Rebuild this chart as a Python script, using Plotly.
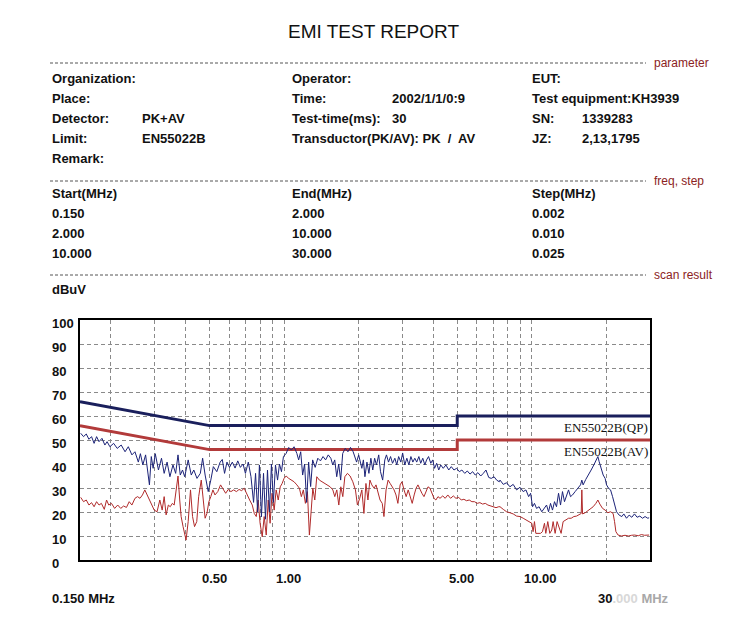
import math
import plotly.graph_objects as go

pk_freq = [0.151, 0.155, 0.159, 0.163, 0.167, 0.171, 0.175, 0.179, 0.184, 0.189,
           0.193, 0.198, 0.205, 0.212, 0.220, 0.228, 0.235, 0.243, 0.250, 0.258,
           0.263, 0.269, 0.276, 0.281, 0.286, 0.291, 0.296, 0.302, 0.311, 0.320,
           0.328, 0.337, 0.346, 0.356, 0.365, 0.373, 0.381, 0.389, 0.397, 0.410,
           0.422, 0.432, 0.445, 0.459, 0.469, 0.480, 0.494, 0.506, 0.518, 0.535,
           0.552,
           0.563, 0.575, 0.588, 0.602, 0.618, 0.634, 0.650, 0.666, 0.683, 0.698,
           0.717, 0.735, 0.753, 0.767, 0.782, 0.795, 0.810, 0.826, 0.841, 0.857,
           0.873, 0.889, 0.905, 0.923, 0.941, 0.958, 0.976, 0.994, 1.019, 1.044,
           1.070, 1.097, 1.126, 1.145, 1.167, 1.188, 1.210, 1.233, 1.256, 1.280,
           1.304, 1.335, 1.368, 1.402, 1.436, 1.471, 1.507, 1.544, 1.572, 1.601,
           1.631, 1.661, 1.692, 1.724, 1.766, 1.810, 1.854, 1.900, 1.962, 2.000,
           2.06, 2.09, 2.12, 2.16, 2.20, 2.24, 2.28, 2.32, 2.36, 2.41,
           2.45, 2.50, 2.55, 2.59, 2.64, 2.69, 2.74, 2.80, 2.85, 2.90,
           2.96, 3.01, 3.07, 3.13, 3.19, 3.25, 3.31, 3.37, 3.43, 3.50,
           3.56, 3.63, 3.70, 3.76, 3.83, 3.91, 3.98, 4.05, 4.13, 4.21,
           4.29, 4.39, 4.50, 4.62, 4.73, 4.85, 4.97, 5.10, 5.22, 5.36,
           5.49, 5.63, 5.77, 5.91, 6.06, 6.22, 6.37, 6.53, 6.70, 6.86,
           7.04, 7.21, 7.39,
           7.44, 7.67, 7.91, 8.16, 8.41, 8.68, 8.96, 9.23, 9.47, 9.71,
           9.89, 10.07, 10.25, 10.45, 10.70, 10.97, 11.25, 11.47, 11.68, 11.90,
           12.12, 12.35, 12.58, 12.82, 13.06, 13.30, 13.55, 13.81, 14.07, 14.33,
           14.60, 14.96, 15.34, 15.73, 15.92, 16.11, 16.52, 16.94, 17.36, 17.80,
           18.25, 18.48, 18.70, 19.05, 19.41, 19.77, 20.03, 20.41, 20.79, 21.18,
           21.58, 21.98, 22.52, 23.09, 23.52, 24.12, 24.71, 25.33, 25.97, 26.61,
           27.29, 27.98, 28.66, 29.39, 29.75]
pk_level = [52.8, 51.4, 52.5, 50.3, 51.4, 48.6, 51.4, 49.3, 50.7, 47.9,
            49.3, 47.2, 48.6, 46.5, 47.9, 45.1, 47.2, 43.8, 45.1, 40.8,
            44.3, 39.6, 43.8, 37.5, 31.3, 43.1, 38.2, 44.3, 37.5, 42.4,
            36.1, 40.8, 34.7, 39.6, 36.1, 43.8, 35.4, 37.5, 34.7, 41.7,
            35.4, 37.5, 34.0, 36.1, 42.4, 35.4, 28.5, 33.3, 38.9, 36.8,
            40.8,
            41.9, 36.1, 40.8, 38.6, 40.8, 38.3, 41.3, 38.6, 40.0, 36.1,
            40.8, 34.7, 24.0, 36.1, 20.0, 39.6, 18.0, 36.1, 17.0, 37.5,
            20.0, 40.0, 24.0, 39.6, 33.3, 40.0, 36.8, 43.1, 44.4, 46.9,
            45.8, 47.2, 44.4, 41.7, 45.1, 35.4, 40.0, 24.0, 40.8, 30.6,
            41.7, 38.6, 42.4, 41.3, 43.1, 41.7, 43.8, 42.4, 39.6, 41.7,
            34.7, 40.0, 33.3, 44.4, 46.5, 45.1, 46.9, 45.1, 40.8, 43.8,
            38.2, 41.7, 34.7, 40.8, 36.1, 42.4, 37.5, 42.4, 39.6, 43.8,
            36.8, 33.3, 41.7, 43.8, 40.8, 43.1, 40.3, 42.4, 39.6, 43.1,
            40.8, 44.6, 39.6, 42.4, 39.6, 43.1, 40.8, 42.4, 40.8, 43.1,
            40.3, 42.4, 39.6, 41.7, 43.1, 40.3, 41.7, 38.2, 40.3, 37.5,
            39.6, 38.2, 39.6, 37.5, 38.9, 37.5, 38.2, 36.8, 37.5, 36.1,
            37.1, 35.8, 36.8, 35.4, 36.4, 35.0, 36.1, 37.5, 34.4, 34.0,
            34.7, 33.3, 32.6,
            33.3, 31.5, 32.2, 30.5, 31.5, 29.2, 30.3, 28.5, 29.2, 26.4,
            27.8, 22.2, 23.6, 21.5, 22.2, 20.1, 21.5, 22.9, 20.1, 23.6,
            20.8, 24.3, 22.2, 27.8, 22.9, 28.5, 24.3, 26.4, 29.2, 26.4,
            27.1, 28.5, 29.9, 31.3, 33.3, 31.3, 33.6, 35.4, 37.5, 39.6,
            41.7, 43.1, 41.0, 38.2, 35.4, 34.0, 31.3, 29.9, 29.2, 26.4,
            22.9, 20.1, 18.7, 18.1, 19.2, 17.4, 18.7, 17.8, 19.2, 17.8,
            18.3, 17.4, 18.1, 17.4, 17.6]

av_freq = [0.151, 0.155, 0.159, 0.163, 0.167, 0.171, 0.175, 0.179, 0.183, 0.188,
           0.192, 0.196, 0.201, 0.207, 0.213, 0.219, 0.225, 0.231, 0.237, 0.243,
           0.250, 0.256, 0.262, 0.268, 0.274, 0.280, 0.287, 0.293, 0.299, 0.307,
           0.315, 0.322, 0.328, 0.334, 0.341, 0.347, 0.354, 0.360, 0.367, 0.373,
           0.379, 0.384, 0.391, 0.397, 0.402, 0.410, 0.419, 0.427, 0.435, 0.444,
           0.452, 0.463, 0.472, 0.480, 0.488, 0.497, 0.506, 0.516, 0.526, 0.540,
           0.554, 0.568, 0.581, 0.595, 0.610, 0.626, 0.642, 0.658, 0.674, 0.690,
           0.708, 0.726, 0.744, 0.758, 0.772, 0.786, 0.800, 0.816, 0.831, 0.847,
           0.863, 0.878, 0.894, 0.912, 0.929, 0.947, 0.965, 0.982, 1.000, 1.019,
           1.044, 1.070, 1.097, 1.126, 1.153, 1.174, 1.196, 1.219, 1.242, 1.265,
           1.282, 1.306, 1.330, 1.355, 1.388, 1.423, 1.460, 1.496, 1.534, 1.573,
           1.602, 1.632, 1.663, 1.694, 1.726, 1.759, 1.802, 1.847, 1.894, 1.941,
           1.977,
           2.02, 2.06, 2.10, 2.14, 2.18, 2.22, 2.26, 2.31, 2.35, 2.40,
           2.44, 2.49, 2.53, 2.58, 2.63, 2.68, 2.73, 2.78, 2.83, 2.88,
           2.94, 2.99, 3.05, 3.11, 3.17, 3.23, 3.29, 3.35, 3.41, 3.47,
           3.54, 3.60, 3.67, 3.74, 3.81, 3.88, 3.95, 4.03, 4.10, 4.18,
           4.26, 4.37, 4.47, 4.58, 4.70, 4.82, 4.94, 5.07, 5.19, 5.32,
           5.45, 5.59, 5.73, 5.87, 6.02, 6.17, 6.33, 6.49, 6.65, 6.82,
           6.99, 7.17, 7.35,
           7.44, 7.67, 7.91, 8.16, 8.41, 8.68, 8.96, 9.23, 9.53, 9.82,
           10.00, 10.12, 10.25, 10.38, 10.64, 10.84, 11.04, 11.25, 11.39, 11.60,
           11.82, 12.04, 12.19, 12.42, 12.65, 12.89, 13.13, 13.38, 13.72, 14.07,
           14.42, 14.78, 15.16, 15.54, 15.83, 15.92, 16.03, 16.43, 16.84, 17.27,
           17.69, 18.14, 18.48, 18.82, 19.30, 19.77, 20.27, 20.79, 21.29, 21.58,
           21.85, 22.30, 23.00, 23.78, 24.56, 25.30, 26.00, 26.90, 27.70, 28.50,
           29.40, 29.75]
av_level = [26.1, 24.3, 25.0, 22.9, 23.9, 22.2, 24.3, 22.9, 23.6, 21.1,
            25.0, 22.9, 23.6, 21.5, 22.9, 21.5, 22.5, 21.9, 24.3, 22.9,
            25.7, 26.4, 25.7, 27.1, 29.2, 27.1, 25.0, 22.9, 20.8, 20.1,
            25.0, 20.8, 26.4, 18.8, 22.9, 22.2, 23.6, 22.9, 29.2, 35.0,
            25.0, 18.1, 13.9, 10.4, 8.3, 16.0, 29.2, 18.1, 13.9, 16.0,
            26.4, 33.3, 23.6, 17.4, 19.4, 24.3, 26.4, 29.2, 27.1, 28.5,
            31.3, 29.2, 27.8, 29.4, 28.5, 29.2, 28.5, 29.4, 28.9, 29.9,
            27.1, 25.0, 22.9, 19.4, 18.1, 25.0, 15.3, 9.7, 18.1, 10.4,
            25.0, 15.3, 27.8, 20.8, 29.2, 25.0, 30.5, 31.9, 34.0, 35.0,
            34.0, 33.3, 32.6, 31.3, 29.9, 26.4, 29.2, 23.6, 28.5, 10.4,
            20.8, 29.9, 25.0, 34.7, 33.3, 32.6, 31.9, 31.3, 30.5, 29.2,
            26.4, 29.2, 22.9, 30.5, 26.4, 34.7, 36.1, 35.0, 32.6, 29.2,
            22.9,
            25.7, 29.2, 19.4, 31.9, 25.0, 33.3, 31.3, 29.9, 31.3, 27.8,
            25.0, 23.6, 18.1, 29.2, 33.3, 31.9, 30.5, 29.2, 27.1, 23.6,
            31.3, 32.6, 29.2, 26.4, 29.2, 26.4, 23.6, 27.1, 29.9, 31.3,
            29.2, 27.8, 26.4, 28.5, 30.5, 29.9, 27.8, 25.7, 25.0, 26.4,
            25.7, 26.7, 25.7, 27.1, 25.7, 26.7, 25.7, 26.1, 25.0, 25.3,
            24.7, 25.0, 24.3, 24.3, 23.6, 23.9, 23.3, 23.6, 22.9, 22.5,
            22.2, 21.8, 22.2,
            22.2, 21.1, 20.1, 19.7, 19.2, 18.3, 18.1, 17.4, 16.7, 16.0,
            15.3, 11.8, 16.0, 11.1, 11.1, 11.1, 11.8, 15.3, 11.1, 16.0,
            11.1, 12.5, 16.0, 11.1, 16.0, 13.9, 11.1, 16.0, 16.7, 17.4,
            17.4, 18.1, 18.3, 18.8, 19.4, 29.2, 19.2, 19.7, 20.6, 21.5,
            22.2, 23.6, 25.0, 23.3, 21.5, 20.8, 19.7, 20.1, 19.4, 16.0,
            11.8, 10.4, 10.0, 10.3, 10.0, 10.3, 10.4, 10.1, 10.6, 10.3,
            10.6, 10.4]

# EN55022 class B limits
limit_freq = [0.15, 0.5, 5.0, 5.0, 30.0]
limit_qp = [66, 56, 56, 60, 60]
limit_av = [56, 46, 46, 50, 50]

grid_freq = [0.2, 0.3, 0.4, 0.5, 0.6, 0.7, 0.8, 0.9, 1, 2, 3, 4, 5, 6, 7, 8, 9, 10, 20]
label_freq = [0.5, 1, 5, 10]
label_text = ['0.50', '1.00', '5.00', '10.00']
y_ticks = [0, 10, 20, 30, 40, 50, 60, 70, 80, 90, 100]

# report header contents
rows = [
    [('Organization:', 50), ('Operator:', 290), ('EUT:', 530)],
    [('Place:', 50), ('Time:', 290), ('2002/1/1/0:9', 390), ('Test equipment:KH3939', 530)],
    [('Detector:', 50), ('PK+AV', 140), ('Test-time(ms):', 290), ('30', 390),
     ('SN:', 530), ('1339283', 580)],
    [('Limit:', 50), ('EN55022B', 140), ('Transductor(PK/AV): PK  /  AV', 290),
     ('JZ:', 530), ('2,13,1795', 580)],
    [('Remark:', 50)],
]
freq_rows = [
    ['Start(MHz)', 'End(MHz)', 'Step(MHz)'],
    ['0.150', '2.000', '0.002'],
    ['2.000', '10.000', '0.010'],
    ['10.000', '30.000', '0.025'],
]
sections = [('parameter', 63), ('freq, step', 181), ('scan result', 275)]

W, H = 750, 621
L, R, T, B = 80, 100, 320, 61
PW, PH = W - L - R, H - T - B


def px(x):
    return (x - L) / PW


def py(y):
    return (H - B - y) / PH


BLUE = '#1c2378'
RED = '#b02a2a'
FONT = 'Liberation Sans, Arial, sans-serif'

fig = go.Figure()
fig.add_scatter(x=limit_freq, y=limit_qp, mode='lines',
                line=dict(color='#1a1f5c', width=3), hoverinfo='skip')
fig.add_scatter(x=limit_freq, y=limit_av, mode='lines',
                line=dict(color='#b23a3a', width=3), hoverinfo='skip')
fig.add_scatter(x=av_freq, y=av_level, mode='lines',
                line=dict(color=RED, width=1))
fig.add_scatter(x=pk_freq, y=pk_level, mode='lines',
                line=dict(color=BLUE, width=1))

ann = []
ann.append(dict(text='EMI TEST REPORT', x=px(373), y=py(32), xref='paper', yref='paper',
                showarrow=False, xanchor='center', yanchor='middle',
                font=dict(family=FONT, size=19, color='#111')))
bold = dict(family=FONT, size=13, color='#111', weight='bold')
for i, row in enumerate(rows):
    for txt, x in row:
        ann.append(dict(text=txt, x=px(x), y=py(78 + 20 * i), xref='paper', yref='paper',
                        showarrow=False, xanchor='left', yanchor='middle', font=bold))
for i, row in enumerate(freq_rows):
    for txt, x in zip(row, [50, 290, 530]):
        ann.append(dict(text=txt, x=px(x), y=py(193 + 20 * i), xref='paper', yref='paper',
                        showarrow=False, xanchor='left', yanchor='middle', font=bold))
ann.append(dict(text='dBuV', x=px(50), y=py(289), xref='paper', yref='paper',
                showarrow=False, xanchor='left', yanchor='middle', font=bold))

shapes = []
for txt, y in sections:
    shapes.append(dict(type='line', xref='paper', yref='paper',
                       x0=px(50), x1=px(646), y0=py(y), y1=py(y),
                       line=dict(color='#555', width=1, dash='3px,2px')))
    ann.append(dict(text=txt, x=px(652), y=py(y), xref='paper', yref='paper',
                    showarrow=False, xanchor='left', yanchor='middle',
                    font=dict(family=FONT, size=12, color='#8b2222')))

# y tick labels, left aligned like the original
for v in y_ticks:
    ann.append(dict(text=str(v), x=px(50), y=v, xref='paper', yref='y', yshift=-3,
                    showarrow=False, xanchor='left', yanchor='middle', font=bold))
# x tick labels (annotation x on a log axis is given in log10 units)
for f, t in zip(label_freq, label_text):
    ann.append(dict(text=t, x=math.log10(f), y=py(578), xref='x', yref='paper', xshift=-10,
                    showarrow=False, xanchor='left', yanchor='middle', font=bold))
ann.append(dict(text='0.150 MHz', x=px(50), y=py(598), xref='paper', yref='paper',
                showarrow=False, xanchor='left', yanchor='middle', font=bold))
ann.append(dict(text='30<span style="color:#d8d8d8">.000</span>'
                     '<span style="color:#a8a8a8"> MHz</span>',
                x=px(596), y=py(598), xref='paper', yref='paper',
                showarrow=False, xanchor='left', yanchor='middle', font=bold))

# limit names
serif = dict(family='Liberation Serif, serif', size=13, color='#111')
ann.append(dict(text='EN55022B(QP)', x=math.log10(limit_freq[-1]), y=limit_qp[-1],
                xref='x', yref='y', yshift=-2, showarrow=False,
                xanchor='right', yanchor='top', font=serif))
ann.append(dict(text='EN55022B(AV)', x=math.log10(limit_freq[-1]), y=limit_av[-1],
                xref='x', yref='y', yshift=-2, showarrow=False,
                xanchor='right', yanchor='top', font=serif))

fig.update_layout(
    width=W, height=H,
    margin=dict(l=L, r=R, t=T, b=B),
    paper_bgcolor='white', plot_bgcolor='white',
    showlegend=False,
    annotations=ann, shapes=shapes,
    xaxis=dict(type='log', range=[math.log10(0.15), math.log10(30)], tickvals=grid_freq,
               showticklabels=False, ticks='',
               showgrid=True, gridcolor='#8a8a8a', gridwidth=1, griddash='4px,3px',
               showline=True, linecolor='black', linewidth=1.5, mirror=True,
               zeroline=False),
    yaxis=dict(range=[0, 100], tickvals=y_ticks[1:-1], showticklabels=False, ticks='',
               showgrid=True, gridcolor='#8a8a8a', gridwidth=1, griddash='4px,3px',
               showline=True, linecolor='black', linewidth=1.5, mirror=True,
               zeroline=False),
)

fig.write_html('out.html', config={'displayModeBar': False},
               post_script="document.body.style.margin='0px';")
